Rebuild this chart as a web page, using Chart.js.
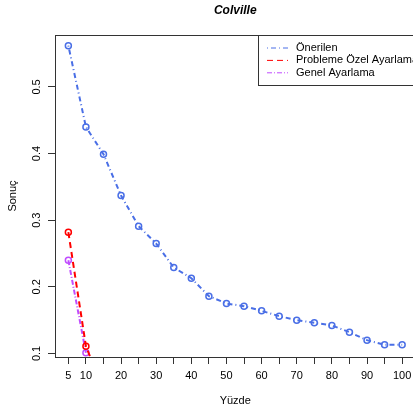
<!DOCTYPE html>
<html>
<head>
<meta charset="utf-8">
<script src="https://cdn.jsdelivr.net/npm/chart.js@4"></script>
<style>
  html, body { margin: 0; padding: 0; background: #fff; overflow: hidden; }
  canvas { display: block; }
</style>
</head>
<body>
<canvas id="chart" width="421" height="414"></canvas>
<script>
// values
const yuzde = [5, 10, 15, 20, 25, 30, 35, 40, 45, 50, 55, 60, 65, 70, 75, 80, 85, 90, 95, 100];
const onerilen = [0.562, 0.440, 0.399, 0.337, 0.291, 0.265, 0.229, 0.213, 0.186, 0.175,
                  0.171, 0.164, 0.156, 0.150, 0.146, 0.142, 0.132, 0.120, 0.113, 0.113];
const probleme = [0.282, 0.111, 0.045];
const genel = [0.240, 0.101];
const xTicks = [5, 10, 15, 20, 25, 30, 35, 40, 45, 50, 55, 60, 65, 70, 75, 80, 85, 90, 95, 100];
const yTicks = [0.1, 0.2, 0.3, 0.4, 0.5];

const FONT = '"Liberation Sans", Arial, sans-serif';

function pts(ys) {
  return ys.map((y, i) => ({ x: yuzde[i], y: y }));
}

function series(label, ys, color, dash) {
  return {
    label: label,
    data: pts(ys),
    borderColor: color,
    backgroundColor: 'transparent',
    borderWidth: 2,
    borderDash: dash,
    pointRadius: 3,
    pointBorderWidth: 1.5,
    pointBorderColor: color,
    pointBackgroundColor: 'transparent',
    tension: 0
  };
}

// box, title, axis labels and legend drawn R-style
const rStyle = {
  id: 'rStyle',
  afterDraw(chart) {
    const ctx = chart.ctx;
    const a = chart.chartArea;
    const ys = chart.scales.y;
    ctx.save();
    ctx.strokeStyle = '#333';
    ctx.lineWidth = 1;
    ctx.strokeRect(a.left + 0.5, a.top + 0.5, a.right - a.left, a.bottom - a.top);

    ctx.fillStyle = '#000';
    ctx.textAlign = 'center';
    ctx.textBaseline = 'middle';
    ctx.font = 'italic bold 12px ' + FONT;
    ctx.fillText('Colville', (a.left + a.right) / 2, 11);

    ctx.font = '11px ' + FONT;
    ctx.fillText('Yüzde', (a.left + a.right) / 2, 401);

    yTicks.forEach(v => {
      ctx.save();
      ctx.translate(37, ys.getPixelForValue(v));
      ctx.rotate(-Math.PI / 2);
      ctx.fillText(String(v), 0, 0);
      ctx.restore();
    });
    ctx.save();
    ctx.translate(13, (a.top + a.bottom) / 2);
    ctx.rotate(-Math.PI / 2);
    ctx.fillText('Sonuç', 0, 0);
    ctx.restore();

    // legend
    const lx = 258, ly = a.top, lh = 50;
    ctx.fillStyle = '#fff';
    ctx.fillRect(lx, ly, a.right - lx + 5, lh);
    ctx.strokeStyle = '#333';
    ctx.strokeRect(lx + 0.5, ly + 0.5, a.right - lx + 5, lh);
    ctx.textAlign = 'left';
    chart.data.datasets.forEach((ds, i) => {
      const y = ly + 13 + i * 12.4;
      ctx.strokeStyle = ds.borderColor;
      ctx.lineWidth = 1;
      ctx.setLineDash(ds.borderDash);
      ctx.beginPath();
      ctx.moveTo(267, y);
      ctx.lineTo(288, y);
      ctx.stroke();
      ctx.setLineDash([]);
      ctx.fillStyle = '#000';
      ctx.fillText(ds.label, 296, y);
    });
    ctx.restore();
  }
};

new Chart(document.getElementById('chart'), {
  type: 'line',
  data: {
    datasets: [
      series('Önerilen', onerilen, '#4a6fe6', [1, 3, 5, 3]),
      series('Probleme Özel Ayarlama', probleme, '#ff0000', [6, 4]),
      series('Genel Ayarlama', genel, '#c04cff', [5, 2, 1, 2])
    ]
  },
  options: {
    responsive: false,
    animation: false,
    layout: { padding: { top: 35, left: 0, right: 0, bottom: 0 } },
    plugins: {
      legend: { display: false },
      title: { display: false },
      tooltip: { enabled: false }
    },
    scales: {
      x: {
        type: 'linear',
        min: 1.2,
        max: 103.8,
        afterBuildTicks: s => { s.ticks = xTicks.map(v => ({ value: v })); },
        afterFit: s => { s.height = 57; },
        border: { display: false },
        grid: { drawOnChartArea: false, drawTicks: true, tickLength: 7, color: '#333' },
        ticks: {
          color: '#000',
          font: { family: FONT, size: 11 },
          padding: 5,
          maxRotation: 0,
          autoSkip: false,
          callback: v => (v === 5 || v % 10 === 0) ? String(v) : ''
        }
      },
      y: {
        type: 'linear',
        min: 0.0947,
        max: 0.578,
        afterBuildTicks: s => { s.ticks = yTicks.map(v => ({ value: v })); },
        afterFit: s => { s.width = 55; },
        border: { display: false },
        grid: { drawOnChartArea: false, drawTicks: true, tickLength: 7, color: '#333' },
        ticks: { callback: () => '', font: { size: 11 } }
      }
    }
  },
  plugins: [rStyle]
});
</script>
</body>
</html>
